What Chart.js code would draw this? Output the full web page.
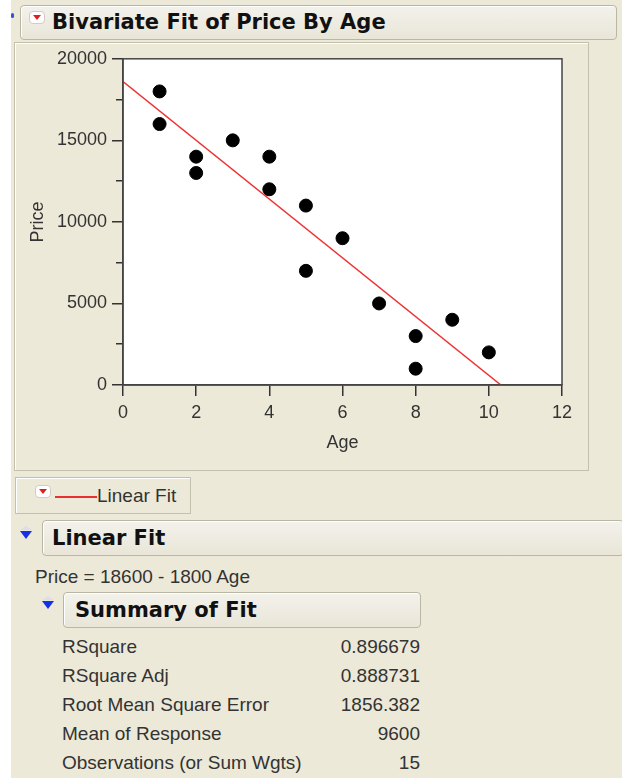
<!DOCTYPE html>
<html>
<head>
<meta charset="utf-8">
<script src="https://cdn.jsdelivr.net/npm/chart.js@4/dist/chart.umd.min.js"></script>
<style>
  html, body { margin: 0; padding: 0; }
  body { width: 622px; height: 778px; background: #fff; position: relative; overflow: hidden;
         font-family: "Liberation Sans", Arial, sans-serif; color: #222; }
  .bg { position: absolute; left: 11px; top: 0; width: 611px; height: 778px; background: #ECE9D8; }
  .hdr { position: absolute; background: linear-gradient(#F3F2EB, #E9E6D8); border: 1px solid #B9B6A6;
         border-radius: 4px; box-shadow: inset 1px 1px 0 #fff; font-family: "DejaVu Sans", sans-serif;
         font-weight: bold; font-size: 21px; color: #111; }
  .hdr span { position: absolute; top: 4px; }
  .panel { position: absolute; border: 1px solid #C3C0AE; box-shadow: inset 1px 1px 0 #fff; }
  .redtri { position: absolute; width: 14px; height: 11px; background: #fff; border: 1px solid #D8C8C8; border-radius: 4px; }
  .redtri::after { content: ""; position: absolute; left: 3px; top: 3px; border-left: 4px solid transparent;
                   border-right: 4px solid transparent; border-top: 5px solid #E02020; }
  .bluetri { position: absolute; width: 0; height: 0; border-left: 6px solid transparent;
             border-right: 6px solid transparent; border-top: 8px solid #1530E8; }
  .bluetri::before { content: ""; position: absolute; left: -6px; top: -13px; border-left: 6px solid transparent;
             border-right: 6px solid transparent; border-bottom: 4px solid #DDE; }
  .txt { position: absolute; font-size: 19px; color: #333; white-space: nowrap; }
  .row { position: absolute; left: 62px; width: 358px; font-size: 19px; color: #333; white-space: nowrap; }
  .row span { position: absolute; right: 0; }
</style>
</head>
<body>
<div class="bg"></div>
<div style="position:absolute;left:11px;top:13px;width:3px;height:5px;background:#3050E0;border-radius:2px;"></div>
<div class="hdr" style="left:20px;top:5px;width:595px;height:33px;">
  <span style="left:31px;">Bivariate Fit of Price By Age</span>
</div>
<div class="redtri" style="left:29px;top:11px;"></div>

<div class="panel" style="left:14px;top:42px;width:573px;height:427px;">
  <canvas id="chart" width="573" height="427" style="position:absolute;left:0;top:0;"></canvas>
</div>

<div class="panel" style="left:15px;top:477px;width:174px;height:35px;">
  <div style="position:absolute;left:39px;top:18px;width:42px;height:2px;background:#E83030;"></div>
  <span class="txt" style="left:81px;top:7px;">Linear Fit</span>
</div>
<div class="redtri" style="left:35px;top:485px;"></div>

<div class="bluetri" style="left:20px;top:531px;"></div>
<div class="hdr" style="left:42px;top:520px;width:580px;height:34px;">
  <span style="left:9px;top:5px;">Linear Fit</span>
</div>
<div class="txt" style="left:35px;top:566px;">Price = 18600 - 1800 Age</div>

<div class="bluetri" style="left:42px;top:601px;"></div>
<div class="hdr" style="left:63px;top:592px;width:356px;height:34px;">
  <span style="left:11px;top:5px;">Summary of Fit</span>
</div>

<div id="summary"></div>

<script>
// ---- Data ----
const ages = [1, 1, 2, 2, 3, 4, 4, 5, 5, 6, 7, 8, 8, 9, 10];
const prices = [18000, 16000, 14000, 13000, 15000, 14000, 12000, 11000, 7000, 9000, 5000, 3000, 1000, 4000, 2000];
const fitAges = [0, 10.33];
const fitPrices = [18600, 0];
const xTicks = [0, 2, 4, 6, 8, 10, 12];
const yTicks = [0, 5000, 10000, 15000, 20000];
const yMinorTicks = [2500, 7500, 12500, 17500];
const summaryLabels = ['RSquare', 'RSquare Adj', 'Root Mean Square Error', 'Mean of Response', 'Observations (or Sum Wgts)'];
const summaryValues = ['0.896679', '0.888731', '1856.382', '9600', '15'];

// summary table
document.getElementById('summary').innerHTML = summaryLabels.map((l, i) =>
  `<div class="row" style="top:${636 + i * 29}px;">${l}<span>${summaryValues[i]}</span></div>`
).join('');

// full frame round the plot area
const frame = {
  id: 'frame',
  afterDraw(chart) {
    const { ctx, chartArea: a } = chart;
    ctx.save();
    ctx.strokeStyle = '#444';
    ctx.lineWidth = 1.5;
    ctx.strokeRect(a.left, a.top, a.right - a.left, a.bottom - a.top);
    ctx.restore();
  }
};

const whiteArea = {
  id: 'whiteArea',
  beforeDraw(chart) {
    const { ctx, chartArea: a } = chart;
    ctx.save();
    ctx.fillStyle = '#fff';
    ctx.fillRect(a.left, a.top, a.right - a.left, a.bottom - a.top);
    ctx.restore();
  }
};

const tickFont = { family: "'Liberation Sans', Arial, sans-serif", size: 18 };
const tickGrid = { drawOnChartArea: false, drawTicks: true, tickLength: 11, color: '#333', lineWidth: 1.5 };

new Chart(document.getElementById('chart'), {
  type: 'scatter',
  data: {
    datasets: [{
      data: ages.map((a, i) => ({ x: a, y: prices[i] })),
      backgroundColor: '#000',
      borderColor: '#000',
      pointRadius: 6.5,
      pointHoverRadius: 6.5
    }, {
      type: 'line',
      data: fitAges.map((a, i) => ({ x: a, y: fitPrices[i] })),
      borderColor: '#EE3333',
      borderWidth: 1.5,
      pointRadius: 0,
      fill: false
    }]
  },
  options: {
    responsive: false,
    animation: false,
    events: [],
    layout: { padding: { top: 15, right: 26, left: 0, bottom: 0 } },
    plugins: { legend: { display: false }, tooltip: { enabled: false } },
    scales: {
      x: {
        type: 'linear', min: 0, max: 12,
        afterBuildTicks: s => { s.ticks = xTicks.map(v => ({ value: v })); },
        afterFit: s => { s.height = 85; },
        grid: tickGrid,
        border: { color: '#444', width: 1.5 },
        ticks: { color: '#333', font: tickFont, padding: 6, callback: v => String(v) },
        title: { display: true, text: 'Age', color: '#333', font: tickFont, padding: { top: 4, bottom: 16 } }
      },
      y: {
        type: 'linear', min: 0, max: 20000, weight: 1,
        afterBuildTicks: s => { s.ticks = yTicks.map(v => ({ value: v })); },
        afterFit: s => { s.width = 108; },
        grid: tickGrid,
        border: { color: '#444', width: 1.5 },
        ticks: { color: '#333', font: tickFont, padding: 5, callback: v => String(v) },
        title: { display: true, text: 'Price', color: '#333', font: tickFont, padding: { top: 12 } }
      },
      yMinor: {
        type: 'linear', position: 'left', min: 0, max: 20000, weight: 0,
        afterBuildTicks: s => { s.ticks = yMinorTicks.map(v => ({ value: v })); },
        afterFit: s => { s.width = 0; },
        grid: { drawOnChartArea: false, drawTicks: true, tickLength: 7, color: '#333', lineWidth: 1.5 },
        border: { display: false },
        ticks: { display: false }
      }
    }
  },
  plugins: [whiteArea, frame]
});
</script>
</body>
</html>
